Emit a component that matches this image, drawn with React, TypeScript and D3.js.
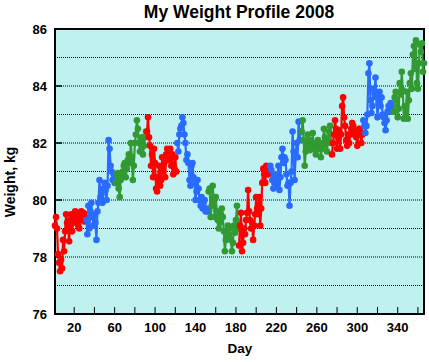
import React from "react";
import * as d3 from "d3";

// Daily weights (kg), one array per month of 2008 (leap year)
const jan = [79.1, 79.4, 79.0, 78.1, 77.8, 77.5, 77.9, 77.6, 78.6, 78.2, 78.9, 79.5, 79.2, 79.0, 78.55, 79.3, 79.5, 78.9, 79.2, 79.4, 79.6, 79.3, 79.5, 79.1, 79.0, 79.4, 79.6, 79.3, 79.55, 79.25, 79.5];
const feb = [79.3, 78.8, 79.8, 79.0, 79.6, 79.9, 79.4, 79.1, 79.5, 79.2, 78.6, 79.6, 79.9, 80.7, 80.1, 80.2, 79.9, 80.4, 80.6, 80.35, 80.0, 80.5, 82.1, 81.8, 81.2, 81.0, 80.7, 80.9, 80.6];
const mar = [80.6, 80.9, 80.95, 80.4, 80.1, 80.7, 80.9, 81.0, 81.2, 81.3, 80.8, 81.1, 81.4, 81.6, 81.3, 82.0, 81.5, 80.7, 81.2, 82.0, 82.3, 82.8, 82.5, 82.0, 81.7, 82.1, 82.2, 81.6, 81.9, 82.2, 82.4];
const apr = [82.4, 82.9, 82.2, 81.9, 81.2, 81.6, 80.8, 81.8, 81.3, 80.4, 80.3, 80.8, 81.2, 80.5, 80.7, 81.5, 81.0, 81.3, 80.8, 81.6, 81.8, 81.4, 81.7, 81.8, 81.2, 81.6, 80.9, 81.1, 81.5, 81.0];
const may = [82.0, 81.7, 82.3, 82.5, 82.6, 82.9, 82.7, 82.3, 82.0, 81.4, 81.6, 81.3, 80.7, 80.5, 81.2, 81.3, 80.8, 80.6, 80.0, 80.3, 80.7, 80.4, 80.0, 79.8, 80.1, 79.7, 79.9, 80.0, 79.6, 79.7, 79.6];
const jun = [80.3, 80.4, 79.4, 79.8, 80.5, 80.0, 79.4, 80.1, 79.6, 79.3, 79.0, 79.2, 79.5, 79.7, 79.4, 78.9, 78.2, 78.6, 78.9, 79.1, 78.8, 79.0, 78.6, 78.2, 78.5, 79.1, 78.85, 79.3, 79.8, 79.0];
const jul = [78.4, 79.1, 79.55, 78.2, 78.5, 79.0, 78.8, 79.3, 79.55, 80.35, 79.6, 79.3, 79.0, 79.2, 78.6, 79.1, 79.5, 80.1, 79.7, 79.5, 80.1, 79.1, 79.7, 80.6, 81.1, 80.9, 80.6, 81.2, 81.1, 80.9, 81.0];
const aug = [81.2, 81.05, 80.7, 80.4, 80.6, 80.9, 80.5, 80.8, 81.2, 80.35, 80.8, 81.5, 81.8, 81.3, 81.5, 81.4, 80.9, 80.5, 80.6, 79.8, 80.6, 81.0, 82.4, 81.7, 80.7, 81.5, 82.0, 81.5, 82.75, 82.1, 82.4];
const sep = [82.4, 82.8, 82.1, 81.2, 81.7, 81.9, 82.3, 82.0, 81.75, 82.1, 81.9, 82.35, 81.8, 82.0, 81.6, 81.9, 82.1, 81.8, 82.0, 81.5, 81.8, 81.9, 82.5, 82.2, 82.0, 81.7, 82.1, 82.4, 82.6, 82.0];
const oct = [81.6, 82.0, 82.3, 82.8, 82.5, 81.8, 82.2, 82.45, 81.8, 82.3, 83.3, 83.6, 82.9, 82.6, 82.1, 81.9, 82.3, 82.0, 82.3, 82.5, 82.7, 82.6, 82.3, 82.45, 82.2, 81.9, 82.3, 82.5, 82.4, 82.0, 82.3];
const nov = [82.8, 82.6, 82.35, 82.6, 83.0, 84.45, 84.8, 83.5, 83.05, 83.3, 83.9, 83.75, 84.3, 83.6, 82.9, 83.4, 83.8, 83.3, 83.6, 83.0, 82.9, 82.7, 82.45, 82.8, 83.1, 83.3, 83.15, 83.4, 83.1, 83.3];
const dec = [83.1, 83.6, 83.8, 83.5, 82.9, 83.2, 84.1, 83.7, 84.5, 83.85, 82.85, 83.3, 82.9, 83.8, 82.85, 83.5, 84.1, 84.45, 83.9, 85.1, 85.4, 84.6, 85.6, 84.1, 83.9, 84.8, 85.45, 85.2, 85.5, 84.5, 84.8];

const months = [jan, feb, mar, apr, may, jun, jul, aug, sep, oct, nov, dec];
const monthColors = ["#ff0000", "#2a6bff", "#339933"];

const xTicks = d3.range(20, 361, 20);
const xLabels = [20, 60, 100, 140, 180, 220, 260, 300, 340];
const yLabels = [76, 78, 80, 82, 84, 86];
const yGrid = d3.range(77, 86, 1);

const W = 429;
const H = 362;
const left = 55;
const right = 424;
const top = 29;
const bottom = 314;
const FONT = "'Liberation Sans', Arial, Helvetica, sans-serif";

export default function App() {
  const x = d3.scaleLinear().domain([1, 366]).range([left, right]);
  const y = d3.scaleLinear().domain([76, 86]).range([bottom, top]);

  // Attach a day-of-year to each daily reading
  let start = 1;
  const series = months.map((vals, i) => {
    const pts = vals.map((w, j) => ({ day: start + j, w }));
    start += vals.length;
    return { pts, color: monthColors[i % 3] };
  });

  const line = d3
    .line<{ day: number; w: number }>()
    .x((d) => x(d.day))
    .y((d) => y(d.w));

  return (
    <svg
      width={W}
      height={H}
      style={{ position: "absolute", left: 0, top: 0, background: "#fff" }}
      fontFamily={FONT}
    >
      <rect x={left} y={top} width={right - left} height={bottom - top} fill="#c0f1f1" />
      {yGrid.map((v) => (
        <line
          key={v}
          x1={left}
          x2={right}
          y1={y(v)}
          y2={y(v)}
          stroke="#000"
          strokeWidth={1}
          strokeDasharray="1 1"
        />
      ))}
      {xTicks.map((t) => (
        <line key={t} x1={x(t)} x2={x(t)} y1={bottom} y2={bottom - 7} stroke="#000" strokeWidth={1} />
      ))}
      {yLabels.map((v) => (
        <line key={v} x1={left} x2={left + 7} y1={y(v)} y2={y(v)} stroke="#000" strokeWidth={1.5} />
      ))}
      <rect
        x={left}
        y={top}
        width={right - left}
        height={bottom - top}
        fill="none"
        stroke="#000"
        strokeWidth={2}
      />
      {series.map((s, i) => (
        <g key={i}>
          <path d={line(s.pts) || ""} fill="none" stroke={s.color} strokeWidth={2.2} />
          {s.pts.map((p) => (
            <circle key={p.day} cx={x(p.day)} cy={y(p.w)} r={3.3} fill={s.color} />
          ))}
        </g>
      ))}
      {xLabels.map((t) => (
        <text key={t} x={x(t)} y={332} textAnchor="middle" fontSize={13} fontWeight="bold">
          {t}
        </text>
      ))}
      {yLabels.map((v) => (
        <text key={v} x={47} y={y(v) + 4.7} textAnchor="end" fontSize={13} fontWeight="bold">
          {v}
        </text>
      ))}
      <text x={239} y={18} textAnchor="middle" fontSize={17.5} fontWeight="bold">
        My Weight Profile 2008
      </text>
      <text x={240} y={353} textAnchor="middle" fontSize={13.5} fontWeight="bold">
        Day
      </text>
      <text
        transform={`translate(15,182) rotate(-90)`}
        textAnchor="middle"
        fontSize={14}
        fontWeight="bold"
      >
        Weight, kg
      </text>
    </svg>
  );
}
